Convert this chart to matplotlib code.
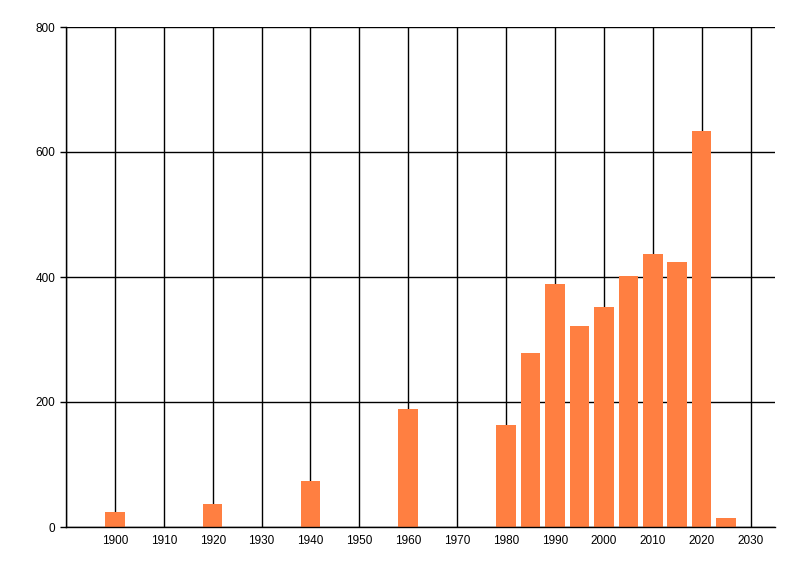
import matplotlib
matplotlib.use('Agg')
import matplotlib.pyplot as plt

# data
years = [1900, 1920, 1940, 1960, 1980, 1985, 1990, 1995, 2000, 2005, 2010, 2015, 2020, 2025]
counts = [24, 37, 74, 189, 163, 278, 389, 322, 352, 402, 437, 424, 634, 14]
xticks = list(range(1900, 2031, 10))
yticks = [0, 200, 400, 600, 800]

plt.rcParams['font.family'] = ['Liberation Sans', 'DejaVu Sans']

fig = plt.figure(figsize=(8, 5.76), dpi=100)
ax = fig.add_axes([66 / 800, 1 - 527 / 576, (775 - 66) / 800, 500 / 576])

# grid lines drawn under the bars
for x in range(1890, 2031, 10):
    ax.axvline(x, color='black', lw=1, zorder=0)
for y in yticks:
    ax.axhline(y, color='black', lw=1, zorder=0)

ax.bar(years, counts, width=4, color='#ff7f41', zorder=2)

ax.set_xlim(1890, 2035)
ax.set_ylim(0, 800)
ax.set_xticks(xticks)
ax.set_yticks(yticks)
ax.tick_params(axis='both', labelsize=8.5, length=4, width=1, color='black')
ax.tick_params(axis='x', length=0, pad=6)
for side in ['top', 'right']:
    ax.spines[side].set_visible(False)
ax.spines['left'].set_linewidth(1)
ax.spines['bottom'].set_linewidth(1)

fig.savefig('out.png', dpi=100)
